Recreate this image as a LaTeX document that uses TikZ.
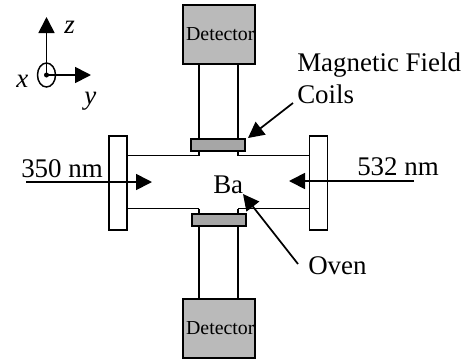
\documentclass[tikz,border=0pt]{standalone}
\usepackage{fontspec}
\setmainfont{Liberation Serif}
\usetikzlibrary{arrows.meta,shapes.geometric}
\tikzset{
  wall/.style={line width=1.1pt,draw=black},
  beam/.style={line width=1.3pt,draw=black,-{Triangle[length=12pt,width=12pt]}},
  detbox/.style={draw=black,line width=1.4pt,fill=black!27,inner sep=0pt,minimum width=54pt,minimum height=44pt,font=\fontsize{14.9}{16}\selectfont},
  coil/.style={draw=black,line width=1.4pt,fill=black!35,inner sep=0pt,minimum width=40.5pt,minimum height=9pt},
  plate/.style={draw=black,line width=1.1pt,fill=white,inner sep=0pt,minimum width=13.5pt,minimum height=70.5pt},
  lab/.style={anchor=base west,inner sep=0pt,font=\fontsize{20.2}{22}\selectfont},
  axlab/.style={anchor=base west,inner sep=0pt,font=\fontsize{20.2}{22}\selectfont\itshape}
}
\begin{document}
\begin{tikzpicture}[x=0.75pt,y=-0.75pt]
\useasboundingbox (0,0) rectangle (471,362);
% reference positions
\coordinate (xL) at (199,0);
\coordinate (xR) at (238,0);
\coordinate (yT) at (0,155.5);
\coordinate (yB) at (0,208.5);
% detectors, plates
\node[detbox] (dt) at (219,34.5) {\kern2pt Detector};
\node[detbox] (db) at (219,328.5) {\kern2pt Detector};
\node[plate] (lp) at (118,183) {};
\node[plate] (rp) at (318.5,183) {};
% tubes
\draw[wall] (dt.south -| xL) -- (xL |- yT);
\draw[wall] (dt.south -| xR) -- (xR |- yT);
\draw[wall] (xL |- yB) -- (xL |- db.north);
\draw[wall] (xR |- yB) -- (xR |- db.north);
\draw[wall] (lp.east |- yT) -- (xL |- yT);
\draw[wall] (xR |- yT) -- (rp.west |- yT);
\draw[wall] (lp.east |- yB) -- (xL |- yB);
\draw[wall] (xR |- yB) -- (rp.west |- yB);
% coils
\node[coil] (ct) at (218,145) {};
\node[coil] (cb) at (219,220) {};
% labels
\node[lab] (mf) at (297,71) {Magnetic Field};
\node[lab] (co) at (297,103) {Coils};
\node[lab] (l350) at (21,177) {350 nm};
\node[lab] (l532) at (357,175) {532 nm};
\node[lab] (ba) at (213,193) {Ba};
\node[lab] (ov) at (308,274) {Oven};
% beams
\coordinate (s350) at (26,182);
\coordinate (e350) at (152,182);
\coordinate (s532) at (414,181);
\coordinate (e532) at (289,181);
\draw[beam] (s350) -- (e350);
\draw[beam] (s532) -- (e532);
% pointers
\coordinate (sco) at (293,103);
\coordinate (eco) at (248,138);
\coordinate (sov) at (298,264);
\coordinate (eov) at (243,194);
\draw[beam] (sco) -- (eco);
\draw[beam] (sov) -- (eov);
% axes
\coordinate (o) at (46.5,75);
\coordinate (zt) at (46.5,17);
\coordinate (yt) at (91,75);
\node[ellipse,draw=black,line width=1.1pt,inner sep=0pt,minimum width=13.5pt,minimum height=18pt] (oc) at (o) {};
\draw[beam] (o) -- (zt);
\draw[beam] (o) -- (yt);
\fill (o) circle[radius=2.5];
\node[axlab] (az) at (64,33) {z};
\node[axlab] (ax) at (16,87) {x};
\node[axlab] (ay) at (84,104) {y};
\end{tikzpicture}
\end{document}
